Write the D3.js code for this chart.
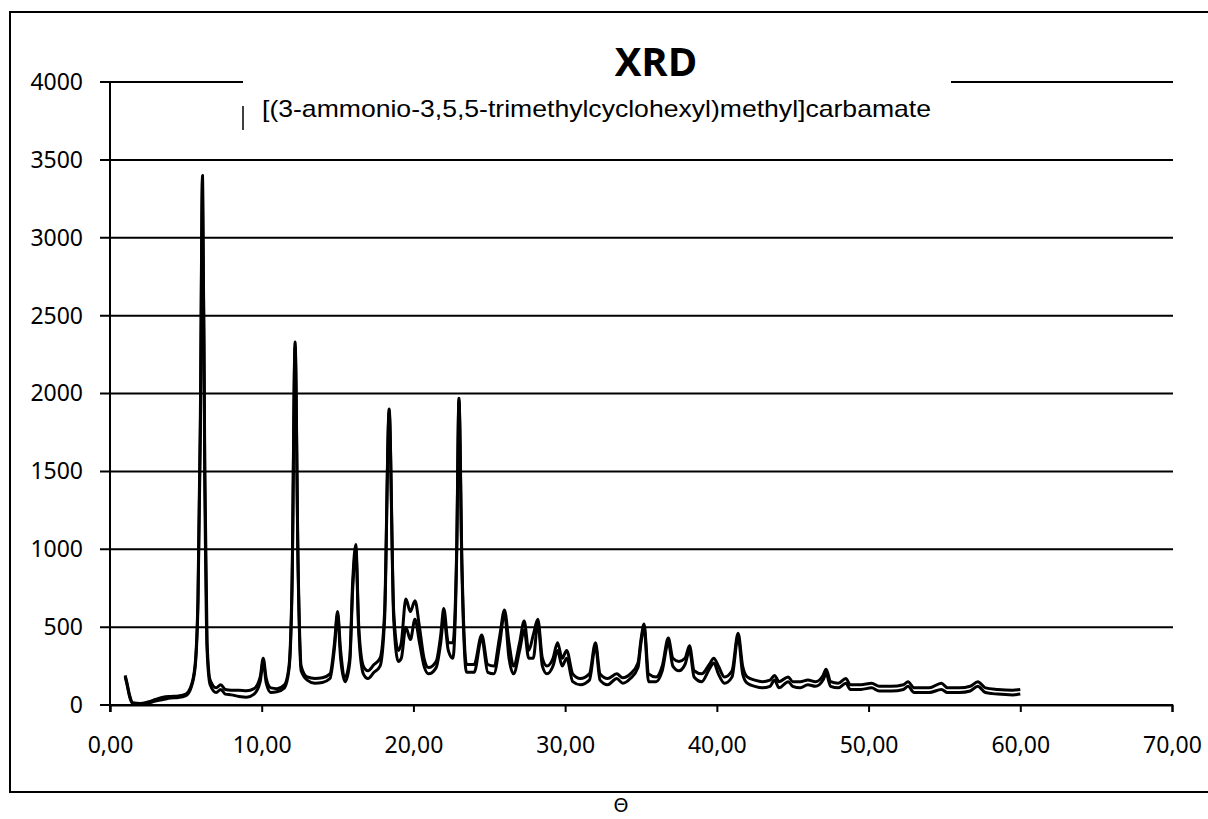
<!DOCTYPE html>
<html><head><meta charset="utf-8">
<script src="https://cdn.jsdelivr.net/npm/d3@7"></script>
<style>body{margin:0;background:#fff}</style>
</head><body>
<svg id="c" width="1208" height="819"></svg>
<script>
const title = "XRD";
const subtitle = "[(3-ammonio-3,5,5-trimethylcyclohexyl)methyl]carbamate";
const xLabel = "Θ";
const xTicks = [0,10,20,30,40,50,60,70];
const yTicks = [0,500,1000,1500,2000,2500,3000,3500,4000];

const theta = [1.0,1.1,1.3,1.5,2.0,2.5,3.0,3.5,4.0,4.5,5.0,5.3,5.6,5.8,5.95,6.1,6.25,6.4,6.6,7.0,7.3,7.6,8.0,8.5,9.0,9.5,9.9,10.1,10.3,10.6,11.0,11.5,11.8,12.0,12.2,12.4,12.6,13.0,13.5,14.0,14.5,14.8,15.0,15.2,15.5,15.8,16.0,16.2,16.4,16.7,17.0,17.4,17.8,18.1,18.4,18.7,19.0,19.2,19.5,19.8,20.1,20.4,20.7,21.0,21.5,21.8,22.0,22.3,22.6,22.85,23.0,23.2,23.5,24.0,24.5,24.9,25.3,25.7,26.0,26.3,26.6,27.0,27.3,27.6,27.9,28.2,28.5,28.8,29.2,29.5,29.8,30.1,30.5,31.0,31.6,32.0,32.3,32.8,33.4,33.8,34.3,34.8,35.0,35.2,35.5,36.0,36.4,36.8,37.1,37.5,37.9,38.2,38.5,39.0,39.5,39.8,40.1,40.5,41.0,41.4,41.7,42.0,42.5,43.0,43.5,43.8,44.1,44.7,45.0,45.5,46.0,46.5,47.0,47.2,47.5,48.0,48.5,48.8,49.5,50.2,50.7,51.5,52.3,52.6,53.0,54.0,54.8,55.2,56.0,56.7,57.2,57.7,58.5,59.5,60.0];

const upper = [190,150,60,15,10,20,35,50,55,58,70,110,250,700,1800,3400,1500,400,160,110,130,100,95,95,92,105,180,300,170,110,105,130,250,800,2330,900,250,180,170,175,200,400,600,350,180,300,800,1030,500,250,220,260,300,600,1900,600,350,400,680,600,670,500,300,240,280,450,620,400,400,1000,1970,900,260,260,450,260,250,450,610,400,250,400,540,350,450,550,300,250,300,400,300,350,200,170,200,400,200,170,200,175,200,270,420,520,200,180,250,430,300,280,300,380,220,200,260,300,250,180,220,460,250,180,160,150,160,190,150,180,150,150,160,150,190,230,150,140,170,130,130,140,120,120,130,150,110,110,140,110,110,120,150,110,100,95,100];

const lower = [180,140,50,10,5,12,25,35,45,48,60,100,230,650,1700,3380,1400,350,130,80,100,70,65,55,50,70,150,280,140,80,85,110,230,750,2300,850,220,160,140,145,170,370,580,300,150,270,750,1000,450,200,170,210,250,550,1880,550,280,300,500,420,550,400,250,200,240,400,560,350,300,950,1950,850,210,210,430,210,200,400,590,300,200,350,480,300,300,530,250,200,250,350,250,300,150,130,160,380,160,130,170,140,170,240,400,500,150,150,220,400,250,220,260,350,180,150,230,270,200,140,180,440,200,140,120,110,120,160,110,150,120,110,130,120,160,200,120,110,140,100,100,110,90,90,100,120,80,80,100,80,80,90,120,80,70,65,70];

const svg = d3.select("#c");
const x = d3.scaleLinear().domain([0,70]).range([110,1172]);
const y = d3.scaleLinear().domain([0,4000]).range([705,82]);

// outer frame (right edge runs off the picture)
svg.append("rect").attr("x",10).attr("y",12).attr("width",1210).attr("height",780)
  .attr("fill","none").attr("stroke","#000").attr("stroke-width",2);

// horizontal gridlines (with left tick extension)
const gridG = svg.append("g");
yTicks.forEach(v=>{
  if (v===4000) {
    gridG.append("line").attr("x1",100).attr("x2",243).attr("y1",y(v)).attr("y2",y(v)).attr("stroke","#000").attr("stroke-width",2);
    gridG.append("line").attr("x1",951).attr("x2",1173).attr("y1",y(v)).attr("y2",y(v)).attr("stroke","#000").attr("stroke-width",2);
  } else {
    gridG.append("line").attr("x1",100).attr("x2",1173).attr("y1",y(v)).attr("y2",y(v)).attr("stroke","#000").attr("stroke-width",2);
  }
});

// y axis
const yAxis = d3.axisLeft(y).tickValues(yTicks).tickSize(0).tickPadding(27).tickFormat(d3.format("d"));
const yg = svg.append("g").attr("transform","translate(110,0)").call(yAxis);
yg.select(".domain").remove();
yg.selectAll("text").attr("font-family","'Noto Sans', sans-serif").attr("font-size",23).attr("fill","#000");

// x axis
const xAxis = d3.axisBottom(x).tickValues(xTicks).tickSize(7).tickPadding(25)
  .tickFormat(d=>d3.format(".2f")(d).replace(".",","));
const xg = svg.append("g").attr("transform","translate(0,705)").call(xAxis);
xg.select(".domain").attr("stroke","#000").attr("stroke-width",2);
xg.selectAll(".tick line").attr("stroke","#000").attr("stroke-width",2);
xg.selectAll("text").attr("font-family","'Noto Sans', sans-serif").attr("font-size",23).attr("fill","#000");

// y-axis line
svg.append("line").attr("x1",110).attr("x2",110).attr("y1",82).attr("y2",712).attr("stroke","#000").attr("stroke-width",2);

// series
const line = d3.line().x(d=>x(d[0])).y(d=>y(d[1])).curve(d3.curveMonotoneX);
[upper, lower].forEach(s=>{
  svg.append("path").datum(theta.map((t,i)=>[t,s[i]]))
    .attr("d",line).attr("fill","none").attr("stroke","#000").attr("stroke-width",3)
    .attr("stroke-linejoin","round");
});

// title and subtitle
svg.append("text").attr("x",656).attr("y",76).attr("text-anchor","middle")
  .attr("font-family","'Open Sans', sans-serif").attr("font-weight","bold").attr("font-size",40).text(title);
svg.append("line").attr("x1",243).attr("x2",243).attr("y1",106).attr("y2",130).attr("stroke","#000").attr("stroke-width",1.5);
svg.append("text").attr("x",262).attr("y",117)
  .attr("font-family","'Liberation Sans', Arial, sans-serif").attr("font-size",24)
  .attr("textLength",669).attr("lengthAdjust","spacingAndGlyphs").text(subtitle);

// x label
svg.append("text").attr("x",621).attr("y",812).attr("text-anchor","middle")
  .attr("font-family","'DejaVu Sans', sans-serif").attr("font-size",19).text(xLabel);
</script>
</body></html>
